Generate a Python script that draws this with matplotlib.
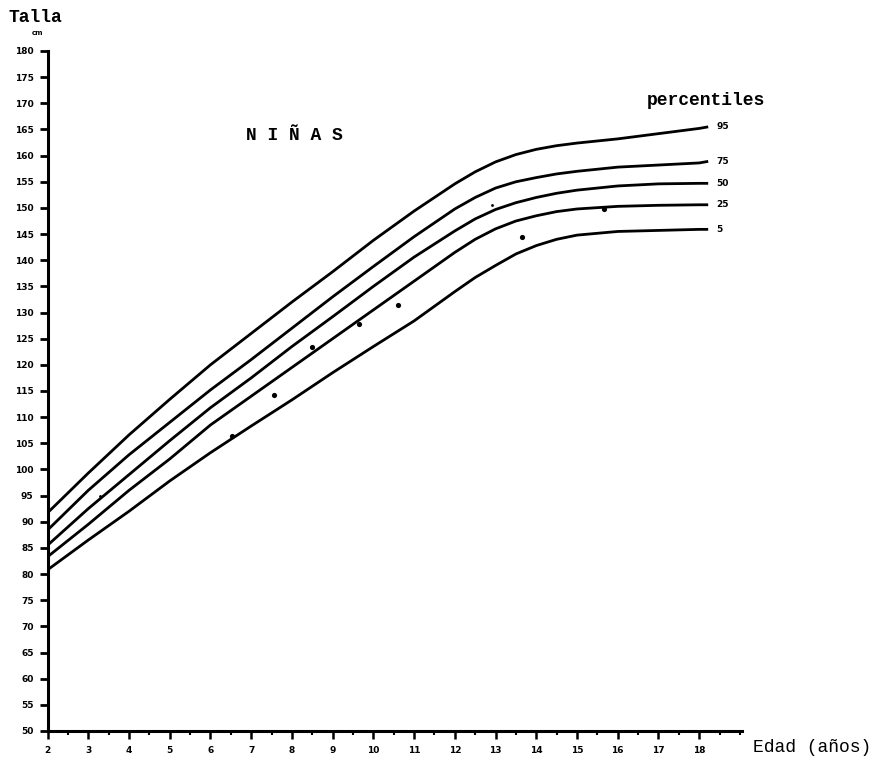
"""
Curvas de crecimiento: talla (cm) por edad, niñas, percentiles 5-95.
"""
import numpy as np
import matplotlib.pyplot as plt
import matplotlib.ticker as mticker

# ── Style ─────────────────────────────────────────────────────────────────────
plt.rcParams.update({
    "figure.facecolor": "white", "axes.facecolor": "white",
    "axes.edgecolor": "black",   "axes.linewidth": 2.2,
    "xtick.color": "black",      "ytick.color": "black",
    "font.family": ["Liberation Mono", "DejaVu Sans Mono"],
})
MONO = ["Liberation Mono", "DejaVu Sans Mono"]

# ── Data ──────────────────────────────────────────────────────────────────────
edad = [2, 3, 4, 5, 6, 7, 8, 9, 10, 11, 12, 12.5, 13, 13.5, 14, 14.5,
        15, 16, 17, 18, 18.22]

p95 = [91.7, 99.3, 106.6, 113.4, 120.0, 126.0, 132.0, 137.8, 143.8, 149.4,
       154.6, 156.9, 158.8, 160.2, 161.2, 161.9, 162.4, 163.2, 164.2, 165.2, 165.5]
p75 = [88.4, 96.0, 102.8, 109.0, 115.2, 121.0, 127.0, 133.0, 138.8, 144.5,
       149.8, 152.0, 153.8, 155.0, 155.8, 156.5, 157.0, 157.8, 158.2, 158.6, 158.9]
p50 = [85.5, 92.5, 99.0, 105.5, 111.8, 117.5, 123.5, 129.2, 135.0, 140.6,
       145.6, 147.9, 149.7, 151.0, 152.0, 152.8, 153.4, 154.2, 154.6, 154.7, 154.7]
p25 = [83.3, 89.5, 96.0, 102.0, 108.5, 114.0, 119.5, 125.0, 130.5, 136.0,
       141.5, 144.0, 146.0, 147.5, 148.5, 149.3, 149.8, 150.3, 150.5, 150.6, 150.6]
p5  = [80.8, 86.5, 92.0, 97.8, 103.2, 108.3, 113.3, 118.5, 123.5, 128.4,
       134.0, 136.7, 139.0, 141.2, 142.8, 144.0, 144.8, 145.5, 145.7, 145.9, 145.9]

curvas = {"95": p95, "75": p75, "50": p50, "25": p25, "5": p5}

# mediciones individuales
obs_edad  = [6.52, 7.55, 8.49, 9.64, 10.60, 13.65, 15.65]
obs_talla = [106.4, 114.2, 123.5, 127.8, 131.5, 144.5, 149.8]
obs_chica_edad  = [3.30, 12.92]
obs_chica_talla = [94.9, 150.6]

y_ticks = list(range(50, 185, 5))
x_ticks = list(range(2, 19))

# ── Plot ──────────────────────────────────────────────────────────────────────
fig = plt.figure(figsize=(8.76, 7.62), dpi=100)
ax = fig.add_axes([47.5 / 876, 31 / 762, (742 - 47.5) / 876, 680 / 762])

for nombre, vals in curvas.items():
    ax.plot(edad, vals, color="black", lw=2.0, solid_capstyle="butt",
            solid_joinstyle="round", zorder=3)
    ax.annotate(nombre, (edad[-1], vals[-1]), xytext=(6, 0),
                textcoords="offset points", ha="left", va="center",
                fontsize=6.5, fontweight="bold", family="DejaVu Sans")

ax.scatter(obs_edad, obs_talla, s=14, color="black", zorder=4, linewidths=0)
ax.scatter(obs_chica_edad, obs_chica_talla, s=4, color="black", zorder=4,
           linewidths=0)

ax.set_xlim(2, 19.05)
ax.set_ylim(50, 180)
ax.spines["top"].set_visible(False)
ax.spines["right"].set_visible(False)

ax.set_yticks(y_ticks)
ax.set_yticklabels([str(v) for v in y_ticks], fontsize=6.5, fontweight="bold",
                   family="DejaVu Sans")
ax.set_xticks(x_ticks)
ax.set_xticklabels([str(v) for v in x_ticks], fontsize=6.5, fontweight="bold",
                   family="DejaVu Sans")
ax.xaxis.set_minor_locator(mticker.MultipleLocator(0.5))
ax.tick_params(axis="y", direction="out", length=6, width=2.0, pad=4)
ax.tick_params(axis="x", which="major", direction="out", length=6, width=1.8, pad=5)
ax.tick_params(axis="x", which="minor", direction="out", length=3, width=1.5)

ax.text(8.05, 163.9, "N I Ñ A S", ha="center", va="center",
        fontsize=13, fontweight="bold", family=MONO)
ax.text(18.17, 170.6, "percentiles", ha="center", va="center",
        fontsize=13, fontweight="bold", family=MONO)

fig.text(35 / 876, 1 - 17 / 762, "Talla", ha="center", va="center",
         fontsize=13, fontweight="bold", family=MONO)
fig.text(37 / 876, 1 - 33 / 762, "cm", ha="center", va="center",
         fontsize=5, fontweight="bold", family="DejaVu Sans")
fig.text(812 / 876, 1 - 748 / 762, "Edad (años)", ha="center", va="center",
         fontsize=13, family=MONO)

fig.savefig("out.png", dpi=100, facecolor="white")
